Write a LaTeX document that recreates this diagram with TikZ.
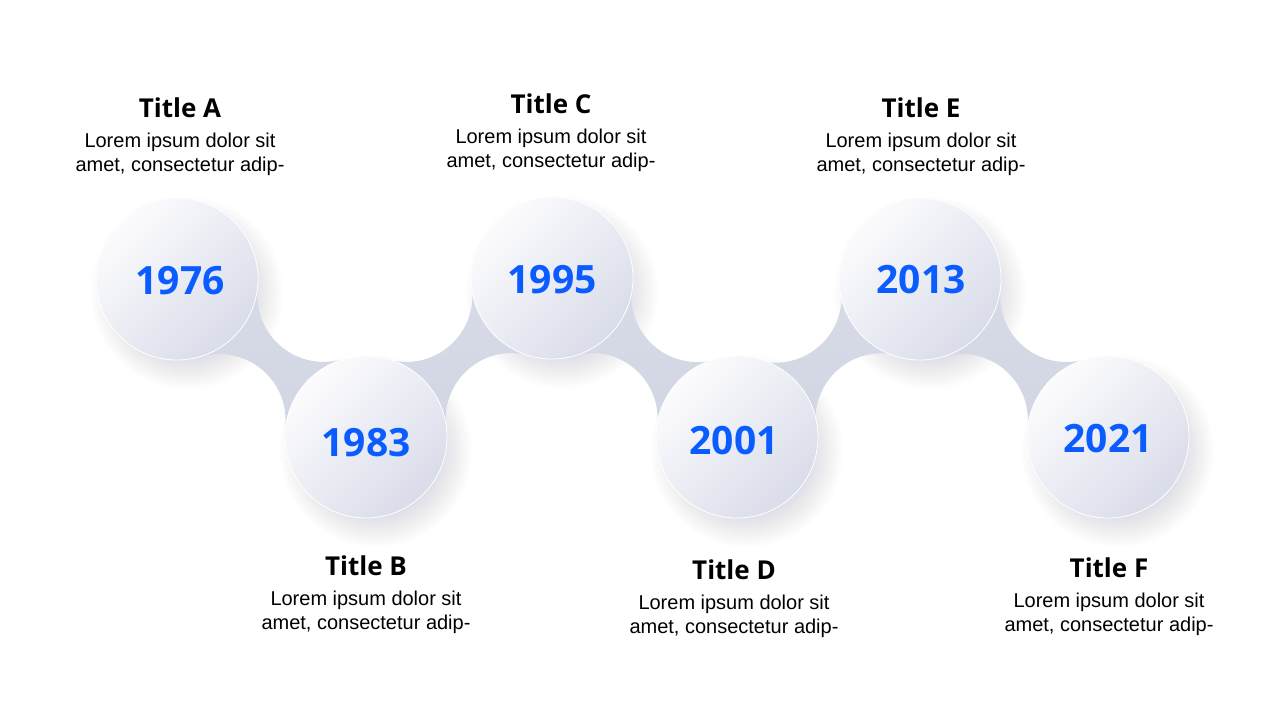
\documentclass[tikz,border=0pt]{standalone}
\usepackage{fontspec}
\setmainfont{Liberation Sans}
\newfontfamily\headfont{Open Sans}
\usetikzlibrary{calc}
\definecolor{yearblue}{HTML}{0A5CFF}
\definecolor{ballhi}{HTML}{FCFCFE}
\definecolor{balllo}{HTML}{D9DCE9}
\definecolor{neckhi}{HTML}{DCDFEA}
\definecolor{necklo}{HTML}{CDD1E0}
\definecolor{shadowc}{HTML}{8890B3}
\newcommand\neckbridge[2]{%
  \begin{scope}
    \coordinate (mm) at ($(#1)!0.5!(#2)$);
    \coordinate (fa) at ($(mm)!81pt!90:(#2)$);
    \coordinate (fb) at ($(mm)!81pt!-90:(#2)$);
    \clip (#1)--(fa)--(#2)--(fb)--cycle;
    \shade[even odd rule, top color=neckhi, bottom color=necklo]
      ($(mm)+(-200,-200)$) rectangle ($(mm)+(200,200)$) (fa) circle (66) (fb) circle (66);
  \end{scope}}
\begin{document}
\begin{tikzpicture}[x=1pt,y=-1pt,
  ball/.style={circle, minimum size=162pt, inner sep=0pt, draw=white, line width=0.8pt,
    top color=ballhi, bottom color=balllo, shading angle=45},
  year/.style={font=\headfont\bfseries\fontsize{39}{39}\selectfont, text=yearblue, inner sep=0pt},
  ttl/.style={font=\headfont\bfseries\fontsize{26}{26}\selectfont, anchor=base, inner sep=0pt},
  body/.style={font=\fontsize{20}{20}\selectfont, anchor=base, inner sep=0pt}]
\fill[white] (0,0) rectangle (1280,720);
\useasboundingbox (0,0) rectangle (1280,720);
% centres
\coordinate (c1) at (177,279);
\coordinate (c2) at (366,437);
\coordinate (c3) at (552,278);
\coordinate (c4) at (737,437);
\coordinate (c5) at (920,279);
\coordinate (c6) at (1108,437);
% shadows
\foreach \c in {c1,c2,c3,c4,c5,c6}{
  \foreach \k in {0,...,15}{
    \fill[shadowc, opacity=0.017] ($(\c)+(10,14)$) circle ({96-2*\k});
  }
}
% connectors
\neckbridge{c1}{c2}
\neckbridge{c2}{c3}
\neckbridge{c3}{c4}
\neckbridge{c4}{c5}
\neckbridge{c5}{c6}
% balls
\node[ball] (b1) at (c1) {};
\node[ball] (b2) at (c2) {};
\node[ball] (b3) at (c3) {};
\node[ball] (b4) at (c4) {};
\node[ball] (b5) at (c5) {};
\node[ball] (b6) at (c6) {};
% years
\node[year] (y1) at (180,281) {1976};
\node[year] (y2) at (366,443) {1983};
\node[year] (y3) at (552,280) {1995};
\node[year] (y4) at (734,441) {2001};
\node[year] (y5) at (921,280) {2013};
\node[year] (y6) at (1108,439) {2021};
% texts
\foreach \n/\x/\y/\t in {A/180/117/Title A, B/366/575/Title B, C/551/113/Title C,
                         D/734/579/Title D, E/921/117/Title E, F/1109/577/Title F}{
  \node[ttl] (t\n) at (\x,\y) {\t};
  \node[body] (l\n) at (\x,\y+30) {\makebox[191pt][s]{Lorem ipsum dolor sit}};
  \node[body] (m\n) at (\x,\y+54) {\makebox[209pt][s]{amet, consectetur adip-}};
}
\end{tikzpicture}
\end{document}
